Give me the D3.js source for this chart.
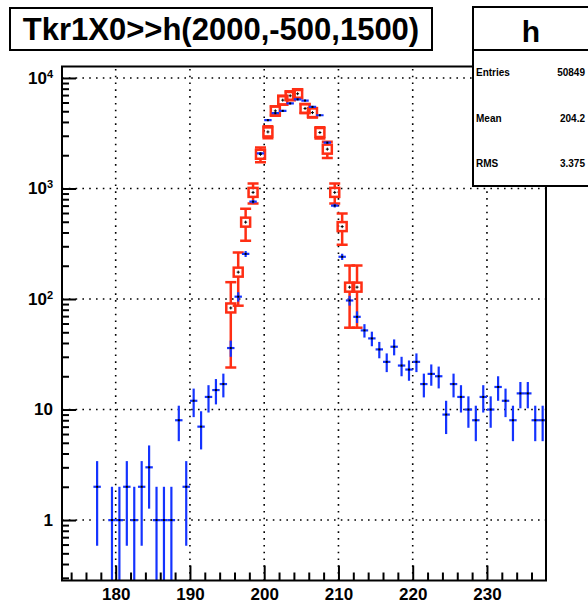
<!DOCTYPE html>
<html><head><meta charset="utf-8">
<script src="https://cdn.jsdelivr.net/npm/d3@7"></script>
<style>body{margin:0;background:#fff} svg{display:block}</style>
</head><body><svg id="c" width="588" height="603"></svg>
<script>
// ---- data ----
const titleText = "Tkr1X0>>h(2000,-500,1500)";
const histName = "h";
const statsLabels = ["Entries", "Mean", "RMS"];
const statsValues = ["50849", "204.2", "3.375"];

const blueBins = [177.5,178.5,179.5,180.5,181.5,182.5,183.5,184.5,185.5,186.5,187.5,188.5,189.5,190.5,191.5,192.5,193.5,194.5,195.5,196.5,197.5,198.5,199.5,200.5,201.5,202.5,203.5,204.5,205.5,206.5,207.5,208.5,209.5,210.5,211.5,212.5,213.5,214.5,215.5,216.5,217.5,218.5,219.5,220.5,221.5,222.5,223.5,224.5,225.5,226.5,227.5,228.5,229.5,230.5,231.5,232.5,233.5,234.5,235.5,236.5,237.5];
const blueCounts = [2,0,1,1,2,1,2,3,1,1,1,8,2,12,7,13,15,17,36,105,256,760,2075,4150,4800,5040,5880,6400,6250,5480,4600,2600,700,241,97,69,52,44,35,27,37,25,23,27,17,21,20,9,17,13,10,8,13,10,16,12,8,14,14,8,8];

const redBins = [195.5,196.5,197.5,198.5,199.5,200.5,201.5,202.5,203.5,204.5,205.5,206.5,207.5,208.5,209.5,210.5,211.5,212.5];
const redValues = [83,175,496,922,2040,3250,5040,6300,6900,7200,5300,4860,3210,2270,922,452,128,128];
const redErrors = [59,88,160,190,310,400,480,540,560,580,490,470,380,380,190,143,73,73];

const xMajorTicks = [180,190,200,210,220,230];
const xMinorTicks = [174,176,178,182,184,186,188,192,194,196,198,202,204,206,208,212,214,216,218,222,224,226,228,232,234,236];
const yMajorTicks = [1,10,100,1000,10000];
const yTickLabels = ["1","10","10^2","10^3","10^4"];
const yMinorTicks = [0.3,0.4,0.5,0.6,0.7,0.8,0.9,2,3,4,5,6,7,8,9,20,30,40,50,60,70,80,90,200,300,400,500,600,700,800,900,2000,3000,4000,5000,6000,7000,8000,9000];

// ---- layout ----
const L = 62, R = 546, T = 66.5, B = 580.5;
const BLUE = "#1433ff", RED = "#ff2e14";
const svg = d3.select("#c");
const x = d3.scaleLinear().domain([172.77, 237.95]).range([L, R]);
const y = d3.scaleLog().domain([0.2838, 12700]).range([B, T]);

svg.append("defs").append("clipPath").attr("id","clip")
  .append("rect").attr("x",L).attr("y",T).attr("width",R-L).attr("height",B-T);

// grid
const grid = svg.append("g").attr("stroke","#000").attr("stroke-width",1.6)
  .attr("stroke-dasharray","1.6,5.2").attr("fill","none");
grid.selectAll("line.gx").data(xMajorTicks).join("line")
  .attr("x1",d=>x(d)).attr("x2",d=>x(d)).attr("y1",B).attr("y2",T);
grid.selectAll("line.gy").data(yMajorTicks).join("line")
  .attr("y1",d=>y(d)).attr("y2",d=>y(d)).attr("x1",L).attr("x2",R);

// axes
const fontAxis = "bold 17px 'Liberation Sans', Arial, sans-serif";
const gx = svg.append("g").attr("transform",`translate(0,${B})`)
  .call(d3.axisBottom(x).tickValues(xMajorTicks).tickSizeInner(-15).tickSizeOuter(0).tickPadding(7).tickFormat(d3.format("d")));
const gxm = svg.append("g").attr("transform",`translate(0,${B})`)
  .call(d3.axisBottom(x).tickValues(xMinorTicks).tickSizeInner(-8).tickSizeOuter(0).tickFormat(""));
const gy = svg.append("g").attr("transform",`translate(${L},0)`)
  .call(d3.axisLeft(y).tickValues(yMajorTicks).tickSizeInner(-14).tickSizeOuter(0).tickPadding(9)
  .tickFormat((d,i)=>yTickLabels[i]));
const gym = svg.append("g").attr("transform",`translate(${L},0)`)
  .call(d3.axisLeft(y).tickValues(yMinorTicks).tickSizeInner(-7).tickSizeOuter(0).tickFormat(""));
[gx,gxm,gy,gym].forEach(g=>{
  g.select(".domain").remove();
  g.selectAll(".tick line").attr("stroke","#000").attr("stroke-width",2);
  g.selectAll("text").style("font", fontAxis).attr("fill","#000");
});
gy.selectAll(".tick text").each(function(d,i){
  const t = d3.select(this); const s = yTickLabels[i];
  if (s.includes("^")) {
    const [b,e] = s.split("^");
    t.text(null);
    t.append("tspan").text(b);
    t.append("tspan").attr("dy","-0.55em").style("font-size","11px").text(e);
  }
});

// data: red (scaled) with caps + open squares
const plot = svg.append("g").attr("clip-path","url(#clip)");
const red = plot.append("g").attr("stroke",RED).attr("stroke-width",2.5).attr("fill","none");
redBins.forEach((c,i)=>{
  const v = redValues[i], e = redErrors[i];
  const cx = x(c), cy = y(v), y1 = y(v+e), y2 = y(Math.max(v-e, 0.2838));
  const h = 4.5, cap = 5.5;
  if (y1 < cy - h) red.append("line").attr("x1",cx).attr("x2",cx).attr("y1",y1).attr("y2",cy-h);
  if (y2 > cy + h) red.append("line").attr("x1",cx).attr("x2",cx).attr("y1",cy+h).attr("y2",y2);
  red.append("line").attr("x1",cx-cap).attr("x2",cx+cap).attr("y1",y1).attr("y2",y1);
  red.append("line").attr("x1",cx-cap).attr("x2",cx+cap).attr("y1",y2).attr("y2",y2);
  red.append("line").attr("x1",x(c-0.5)).attr("x2",cx-h).attr("y1",cy).attr("y2",cy);
  red.append("line").attr("x1",cx+h).attr("x2",x(c+0.5)).attr("y1",cy).attr("y2",cy);
  red.append("rect").attr("x",cx-h).attr("y",cy-h).attr("width",2*h).attr("height",2*h);
});

// data: blue histogram with poisson errors
const blue = plot.append("g").attr("stroke",BLUE).attr("stroke-width",2.2);
blueBins.forEach((c,i)=>{
  const v = blueCounts[i]; if (v <= 0) return;
  const e = Math.sqrt(v);
  const cx = x(c), cy = y(v);
  blue.append("line").attr("x1",cx).attr("x2",cx).attr("y1",y(v+e)).attr("y2",v-e>0.2838? y(v-e) : B);
  blue.append("line").attr("x1",x(c-0.5)).attr("x2",x(c+0.5)).attr("y1",cy).attr("y2",cy);
});

// black centre dots
const dots = plot.append("g").attr("fill","#000");
blueBins.forEach((c,i)=>{ const v = blueCounts[i]; if (v<=0) return;
  dots.append("rect").attr("x",x(c)-1).attr("y",y(v)-1).attr("width",2).attr("height",2); });
redBins.forEach((c,i)=>{ const v = redValues[i];
  dots.append("rect").attr("x",x(c)-1.5).attr("y",y(v)-0.5).attr("width",3).attr("height",1);
  dots.append("rect").attr("x",x(c)-0.5).attr("y",y(v)-1.5).attr("width",1).attr("height",3); });

// frame
svg.append("rect").attr("x",L).attr("y",T).attr("width",R-L).attr("height",B-T)
  .attr("fill","none").attr("stroke","#000").attr("stroke-width",2);

// title box
svg.append("rect").attr("x",10).attr("y",8).attr("width",422).attr("height",42)
  .attr("fill","#fff").attr("stroke","#000").attr("stroke-width",2);
svg.append("text").attr("x",221).attr("y",40).attr("text-anchor","middle")
  .style("font","bold 31px 'Liberation Sans', Arial, sans-serif").text(titleText);

// stats box
svg.append("rect").attr("x",473).attr("y",7).attr("width",120).attr("height",179)
  .attr("fill","#fff").attr("stroke","#000").attr("stroke-width",2);
svg.append("line").attr("x1",473).attr("x2",590).attr("y1",50).attr("y2",50)
  .attr("stroke","#000").attr("stroke-width",2);
svg.append("text").attr("x",531).attr("y",42).attr("text-anchor","middle")
  .style("font","bold 30px 'Liberation Sans', Arial, sans-serif").text(histName);
const statY = [72, 118, 163];
statsLabels.forEach((s,i)=>{
  svg.append("text").attr("x",476).attr("y",statY[i]+3.5)
    .style("font","bold 10px 'Liberation Sans', Arial, sans-serif").text(s);
  svg.append("text").attr("x",585).attr("y",statY[i]+3.5).attr("text-anchor","end")
    .style("font","bold 10px 'Liberation Sans', Arial, sans-serif").text(statsValues[i]);
});
</script></body></html>
